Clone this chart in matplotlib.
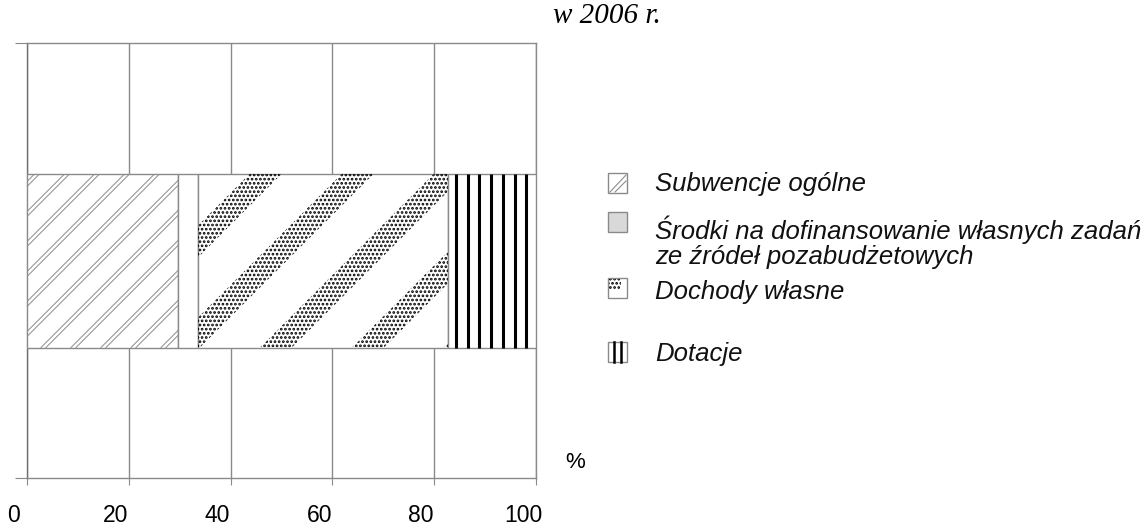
import numpy as np
import matplotlib
matplotlib.use("Agg")
import matplotlib.pyplot as plt
from matplotlib.patches import Rectangle, Polygon
from matplotlib.lines import Line2D
from matplotlib.transforms import ScaledTranslation, IdentityTransform

# ---- data ----
categories = ["Subwencje ogólne",
              "Środki na dofinansowanie własnych zadań\nze źródeł pozabudżetowych",
              "Dochody własne",
              "Dotacje"]
shares = [29.7, 3.9, 49.1, 17.3]
xticks = [0, 20, 40, 60, 80, 100]
title = "w 2006 r."

W, H, DPI = 1144, 526, 100
matplotlib.rcParams["hatch.linewidth"] = 1.3
fig = plt.figure(figsize=(W / DPI, H / DPI), dpi=DPI)
ax = fig.add_axes([27 / W, 48 / H, 509 / W, 435 / H])

GRID = "#8a8a8a"
ax.set_xlim(0, 100)
ax.set_ylim(-0.5, 0.5)
ax.set_xticks(xticks)
ax.set_xticklabels([str(t) for t in xticks], fontsize=16.5, family="Liberation Sans")
ax.set_yticks([-0.5, 0.5])
ax.set_yticklabels([])
ax.xaxis.grid(True, color=GRID, lw=1.0)
ax.set_axisbelow(True)
ax.tick_params(axis="x", length=5, color=GRID, pad=14)
ax.tick_params(axis="y", length=9, color=GRID)
for s in ax.spines.values():
    s.set_color(GRID)
    s.set_linewidth(1.0)
ax.spines["left"].set_color("#707070")
for lab in ax.get_xticklabels():
    lab.set_transform(lab.get_transform() + ScaledTranslation(-13 / DPI, 0, fig.dpi_scale_trans))

# ---- bars ----
lefts = np.concatenate([[0], np.cumsum(shares)[:-1]])
bh = 0.4
bars = []
for v, l in zip(shares, lefts):
    b = ax.barh(0, v, left=l, height=bh, linewidth=1.0, zorder=3,
                facecolor="white", edgecolor=GRID)
    bars.append(b[0])

fig.canvas.draw()
T = ax.transData

def seg_px(i):
    x0p, y0p = T.transform((lefts[i], -bh / 2))
    x1p, y1p = T.transform((lefts[i] + shares[i], bh / 2))
    return x0p, y0p, x1p, y1p

# texture for "Subwencje ogólne": pairs of thin diagonal lines
x0p, y0p, x1p, y1p = seg_px(0)
hpx = y1p - y0p
period, gap = 30, 5
x = x0p - period + 8
xs_top = []
while x < x1p + hpx:
    xs_top.extend([x, x + gap])
    x += period
for xt in xs_top:
    ln = Line2D([xt - hpx, xt], [y0p, y1p], transform=IdentityTransform(),
                color="#8c8c8c", lw=0.7, zorder=4)
    fig.add_artist(ln)
    ln.set_clip_path(bars[0])

# texture for "Dochody własne": diagonal dotted bands
x0p, y0p, x1p, y1p = seg_px(2)
hpx = y1p - y0p
period, bw, phase = 92, 32, 52
k = -2
while True:
    xl_top = x0p + phase + k * period
    if xl_top - hpx > x1p:
        break
    poly = Polygon([(xl_top - hpx, y0p), (xl_top - hpx + bw, y0p),
                    (xl_top + bw, y1p), (xl_top, y1p)],
                   closed=True, transform=IdentityTransform(),
                   facecolor="none", edgecolor="black", linewidth=0,
                   hatch="....", zorder=4)
    if hasattr(poly, "set_hatch_linewidth"):
        poly.set_hatch_linewidth(1.3)
    fig.add_artist(poly)
    poly.set_clip_path(bars[2])
    k += 1

# texture for "Dotacje": thick vertical lines
l3, w3 = lefts[3], shares[3]
xs = np.linspace(l3 + 0.09 * w3, l3 + w3 - 0.11 * w3, 7)
ax.vlines(xs, -bh / 2, bh / 2, color="black", lw=2.2, zorder=4)

# ---- legend (manual) ----
def px2fig(x, y):
    return x / W, 1 - y / H

icon_top = [173, 212, 278, 342]
text_y = [184, 216, 292, 354]
IW, IH = 19, 20
for i, (lab, iy, ty) in enumerate(zip(categories, icon_top, text_y)):
    fx, fy = px2fig(608, iy + IH)
    kw = dict(transform=fig.transFigure, lw=1.0, edgecolor=GRID)
    if i == 1:
        p = Rectangle((fx, fy), IW / W, IH / H, facecolor="#d9d9d9", **kw)
    else:
        p = Rectangle((fx, fy), IW / W, IH / H, facecolor="white", **kw)
    fig.add_artist(p)
    if i == 0:
        fig.add_artist(Line2D([fx + 2 / W, fx + (IW - 1) / W], [fy + 1 / H, fy + (IH - 2) / H],
                              transform=fig.transFigure, color="#8c8c8c", lw=0.8))
        fig.add_artist(Line2D([fx + 7 / W, fx + (IW - 1) / W], [fy + 1 / H, fy + (IH - 8) / H],
                              transform=fig.transFigure, color="#8c8c8c", lw=0.8))
    if i == 2:
        q = Rectangle((fx + 1 / W, fy + 8 / H), 12 / W, 11 / H, transform=fig.transFigure,
                      facecolor="none", edgecolor="black", lw=0, hatch="....")
        fig.add_artist(q)
    if i == 3:
        for dx in (6, 13):
            fig.add_artist(Line2D([fx + dx / W] * 2, [fy, fy + IH / H],
                                  transform=fig.transFigure, color="black", lw=1.8))
    tx, tyf = px2fig(655, ty)
    va = "top" if i == 1 else "center"
    fig.text(tx, tyf, lab, fontsize=18.5, style="italic", family="Liberation Sans",
             va=va, ha="left", color="#111111", linespacing=1.05)

fig.text(*px2fig(575, 463), "%", fontsize=16, family="Liberation Sans",
         ha="center", va="center")
fig.text(*px2fig(553, 16), title, fontsize=21, style="italic", family="Liberation Serif",
         ha="left", va="center")

fig.savefig("out.png", dpi=DPI)
